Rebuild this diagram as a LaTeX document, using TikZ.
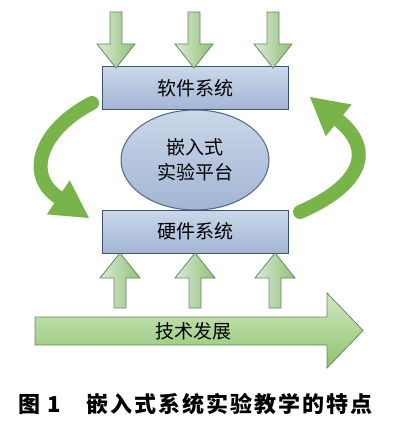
\documentclass[tikz,border=0pt]{standalone}
\usepackage{fontspec}
\setmainfont{Noto Sans CJK SC}
\newfontfamily\capfont[LetterSpace=9]{Noto Sans CJK SC}
\usetikzlibrary{shapes.geometric,arrows.meta}

\definecolor{boxtop}{HTML}{CBD7EA}
\definecolor{boxbot}{HTML}{A2B5D3}
\definecolor{boxline}{HTML}{3E5277}
\definecolor{ellline}{HTML}{506488}
\definecolor{arrowlight}{HTML}{DCE9DA}
\definecolor{arrowgreen}{HTML}{8FC274}
\definecolor{arrowline}{HTML}{6A8663}
\definecolor{techtop}{HTML}{D2E7C4}
\definecolor{techbot}{HTML}{8CC56B}
\definecolor{turngreen}{HTML}{78B449}

\begin{document}
\begin{tikzpicture}[x=1pt, y=-1pt,
    sysbox/.style={draw=boxline, line width=1pt, top color=boxtop, bottom color=boxbot,
                   minimum width=186pt, minimum height=43pt, font=\fontsize{19}{22}\selectfont},
    platform/.style={ellipse, draw=ellline, line width=1pt, top color=boxtop, bottom color=boxbot,
                     minimum width=148pt, minimum height=100pt, align=center,
                     font=\fontsize{19}{25}\selectfont},
    smallarrow/.style={draw=arrowline, line width=0.8pt, left color=arrowlight, right color=arrowgreen},
    bigarrow/.style={draw=arrowline, line width=0.8pt, top color=techtop, bottom color=techbot},
    turnarrow/.style={draw=turngreen, line width=14pt, line cap=round,
                      -{Triangle[length=37pt,width=41pt,line width=0pt]}}]
    \useasboundingbox (0,0) rectangle (402,430);

    % turning arrows on both sides
    \draw[turnarrow] (92,103) .. controls (40,130) and (25,175) .. (89,218);
    \draw[turnarrow] (300,212) .. controls (362,185) and (375,150) .. (310,97);

    \node[platform] (plat) at (195,160) {嵌入式\\实验平台};
    \node[sysbox]   (soft) at (195,88.5) {软件系统};
    \node[sysbox]   (hard) at (195,231.5) {硬件系统};

    % inputs from above and below
    \foreach \x in {116,194,273}
        \draw[smallarrow] (\x-6,12) -- (\x+6,12) -- (\x+6,44) -- (\x+19,44) -- (\x,68)
                          -- (\x-19,44) -- (\x-6,44) -- cycle;
    \foreach \x in {120,195,275}
        \draw[smallarrow] (\x-6,308) -- (\x+6,308) -- (\x+6,278) -- (\x+20,278) -- (\x,253)
                          -- (\x-20,278) -- (\x-6,278) -- cycle;

    \draw[bigarrow] (35,317) -- (327,317) -- (327,293) -- (363,330.5) -- (327,368)
                    -- (327,345) -- (35,345) -- cycle;
    \node[font=\fontsize{19}{22}\selectfont] (tech) at (193,331) {技术发展};

    \node[anchor=west, font=\capfont\bfseries\fontsize{22}{26}\selectfont] (caption) at (15,404)
        {图 1\hspace{26pt}嵌入式系统实验教学的特点};
\end{tikzpicture}
\end{document}
